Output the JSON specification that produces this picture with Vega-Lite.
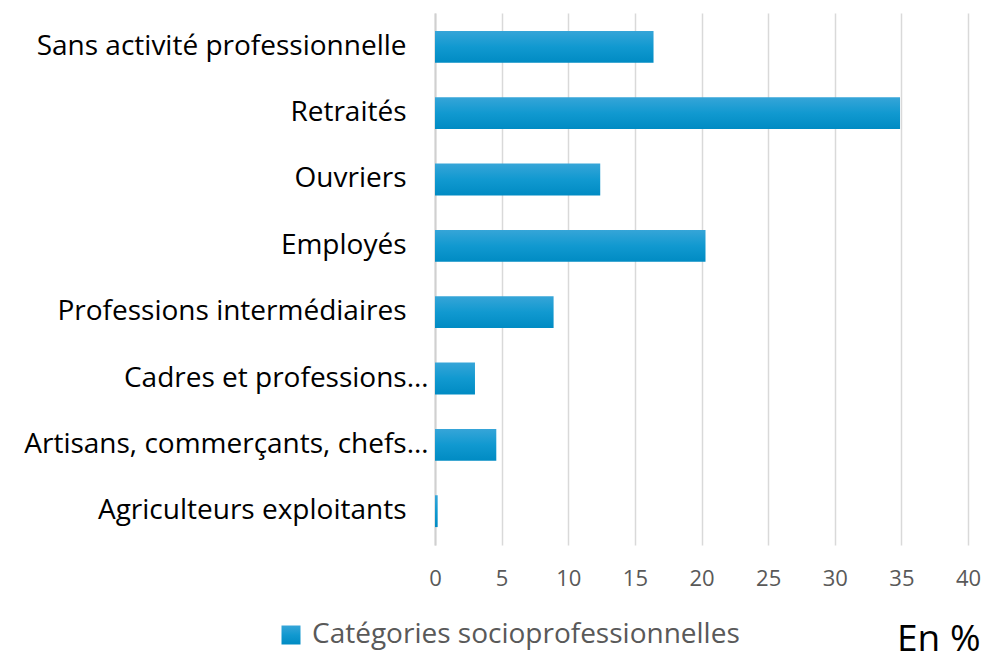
{
  "$schema": "https://vega.github.io/schema/vega-lite/v6.json",
  "autosize": "none",
  "padding": {"left": 435, "top": 13, "right": 16, "bottom": 111},
  "width": 533,
  "height": 532,
  "background": "white",
  "config": {"view": {"stroke": null}, "font": "Open Sans"},
  "data": {"values": [
    {"cat": "Sans activité professionnelle", "val": 16.4, "serie": "Catégories socioprofessionnelles"},
    {"cat": "Retraités", "val": 34.9, "serie": "Catégories socioprofessionnelles"},
    {"cat": "Ouvriers", "val": 12.4, "serie": "Catégories socioprofessionnelles"},
    {"cat": "Employés", "val": 20.3, "serie": "Catégories socioprofessionnelles"},
    {"cat": "Professions intermédiaires", "val": 8.9, "serie": "Catégories socioprofessionnelles"},
    {"cat": "Cadres et professions…", "val": 3.0, "serie": "Catégories socioprofessionnelles"},
    {"cat": "Artisans, commerçants, chefs…", "val": 4.6, "serie": "Catégories socioprofessionnelles"},
    {"cat": "Agriculteurs exploitants", "val": 0.2, "serie": "Catégories socioprofessionnelles"}
  ]},
  "mark": {"type": "bar", "cornerRadius": 0, "color": {"gradient": "linear", "x1": 0, "y1": 0, "x2": 0, "y2": 1, "stops": [{"offset": 0, "color": "#36a5d8"}, {"offset": 0.5, "color": "#1199d0"}, {"offset": 1, "color": "#008bc3"}]}},
  "encoding": {
    "y": {
      "field": "cat", "type": "nominal", "sort": null,
      "scale": {"paddingInner": 0.52, "paddingOuter": 0.27},
      "axis": {
        "title": null, "ticks": false, "domain": true, "domainColor": "#d0d0d0", "domainWidth": 2,
        "labelFont": "Open Sans", "labelFontSize": 28, "labelColor": "#000000", "labelLimit": 500,
        "labelPadding": {"condition": {"test": "indexof(datum.value, '…') >= 0", "value": 7}, "value": 29}
      }
    },
    "x": {
      "field": "val", "type": "quantitative",
      "scale": {"domain": [0, 40], "nice": false},
      "axis": {
        "values": [0, 5, 10, 15, 20, 25, 30, 35, 40],
        "title": "En %", "titleFont": "Open Sans", "titleFontSize": 37, "titleFontWeight": "normal", "titleColor": "#000000",
        "titleAlign": "right", "titleBaseline": "alphabetic", "titleX": 545, "titleY": 105, "titleAngle": 0,
        "grid": true, "gridColor": "#d9d9d9", "gridWidth": 1.5,
        "domain": false, "ticks": false, "labelFlush": false, "labelOverlap": false,
        "labelFont": "Open Sans", "labelFontSize": 22, "labelColor": "#595959", "labelPadding": 23
      }
    },
    "opacity": {
      "field": "serie", "type": "nominal",
      "scale": {"range": [1]},
      "legend": {
        "title": null, "orient": "none", "legendX": -158, "legendY": 608, "padding": 0,
        "symbolType": "square", "symbolSize": 361, "symbolStrokeWidth": 0, "symbolFillColor": "#0f96cc", "symbolOpacity": 1,
        "labelFont": "Open Sans", "labelFontSize": 28, "labelColor": "#595959", "labelLimit": 700, "labelOffset": 7
      }
    }
  }
}
